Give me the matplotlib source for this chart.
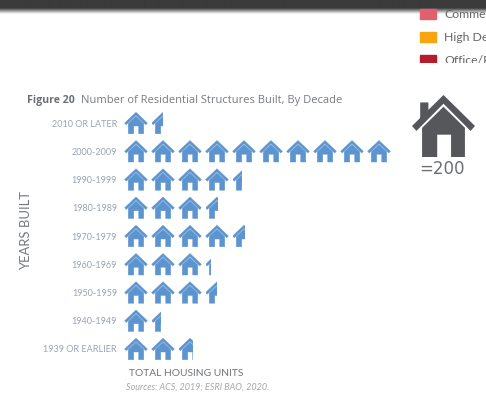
import numpy as np
from matplotlib import pyplot as plt
from matplotlib.path import Path
from matplotlib.patches import PathPatch, Rectangle

# housing units per decade, one icon = 200 units
decades = ["2010 OR LATER", "2000-2009", "1990-1999", "1980-1989", "1970-1979",
           "1960-1969", "1950-1959", "1940-1949", "1939 OR EARLIER"]
units = [300, 2000, 880, 710, 910, 650, 700, 280, 530]
units_per_icon = 200

legend_labels = ["Commercial", "High Density Residential", "Office/Professional"]
legend_colors = ["#e0606f", "#f9a50f", "#b81c2b"]

BLUE = "#5c94cf"
GREY = "#55575b"
LABEL = "#98a4b2"
FONT = "Lato"


def poly(points):
    codes = [Path.MOVETO] + [Path.LINETO] * (len(points) - 1) + [Path.CLOSEPOLY]
    return list(points) + [points[0]], codes


def house_path(x0, y0, w, h, chimney=False):
    # unit house: chevron roof above a body with a door notch, v goes upwards
    roof = [(0, .50), (.5, 1), (1, .50), (.93, .42), (.5, .86), (.07, .42)]
    body = [(.16, 0), (.16, .47), (.5, .81), (.84, .47), (.84, 0), (.62, 0),
            (.62, .36), (.40, .36), (.40, 0)]
    parts = [roof, body]
    if chimney:
        parts.append([(.13, .60), (.13, .88), (.26, .88), (.26, .73)])
    verts, codes = [], []
    for part in parts:
        v, c = poly(part)
        verts += v
        codes += c
    verts = [(x0 + u * w, y0 - v * h) for u, v in verts]
    return Path(verts, codes)


fig = plt.figure(figsize=(4.86, 4.04), dpi=100)

# page layer in pixel coordinates
page = fig.add_axes([0, 0, 1, 1])
page.axis("off")

# dark band with its drop shadow at the top of the page
ys = np.linspace(0, 16, 40)
band = np.tile(np.clip((ys - 8) / 6, 0, 1)[:, None], (1, 486))
page.imshow(band, extent=(0, 486, 16, 0), cmap="gray", vmin=-0.3, vmax=1,
            aspect="auto", zorder=1)
page.set_xlim(0, 486)
page.set_ylim(404, 0)

# legend is cut off below the third entry
legend_clip = Rectangle((410, 0), 76, 63, transform=page.transData)
for i, (name, col) in enumerate(zip(legend_labels, legend_colors)):
    y = 14 + i * 23.2
    swatch = Rectangle((420, y - 5), 16, 10, color=col, zorder=2)
    page.add_patch(swatch)
    swatch.set_clip_path(legend_clip)
    t = page.text(444, y + 0.5, name, fontsize=8.8, color="#666666", family=FONT,
                  va="center", ha="left", zorder=2)
    t.set_clip_on(True)
    t.set_clip_path(legend_clip)

page.text(27, 100, "Figure 20", fontsize=7.6, fontweight="bold", color="#6b6f73",
          family="Open Sans", va="center")
page.text(81, 100, "Number of Residential Structures Built, By Decade", fontsize=8,
          color="#777b80", family="Open Sans", va="center")
page.text(26, 230, "YEARS BUILT", fontsize=9.4, color="#74787c", family=FONT,
          rotation=90, va="center", ha="center")
page.text(129, 374, "TOTAL HOUSING UNITS", fontsize=7.4, color="#6f7377", family=FONT,
          va="center")
page.text(126, 387, "Sources: ACS, 2019; ESRI BAO, 2020.", fontsize=6.5, color="#a3a6a9",
          family=FONT, style="italic", va="center")

# key icon
page.add_patch(PathPatch(house_path(412, 157, 63, 62, chimney=True), fc=GREY, ec="none", zorder=3))
page.text(442, 169, "=200", fontsize=12, color="#6b6e72", family="DejaVu Sans",
          va="center", ha="center")

# pictogram: x in icons, y in rows
ax = fig.add_axes([122.5 / 486, 1 - 363.1 / 404, 270 / 486, 254.2 / 404])
ax.patch.set_alpha(0)
ax.set_xlim(0, 10)
ax.set_ylim(len(decades) - 0.5, -0.5)
ax.set_yticks(range(len(decades)), decades)
ax.set_xticks([])
for s in ax.spines.values():
    s.set_visible(False)
ax.tick_params(axis="y", length=0, pad=4, labelsize=6.5, labelcolor=LABEL)
for lab in ax.get_yticklabels():
    lab.set_family(FONT)

ICON_W = 0.84
ICON_H = 0.76
for row, total in enumerate(units):
    n = total / units_per_icon
    for i in range(int(np.ceil(n))):
        frac = min(n - i, 1)
        x0 = i + (1 - ICON_W) / 2
        patch = PathPatch(house_path(x0, row + ICON_H / 2, ICON_W, ICON_H), fc=BLUE, ec=BLUE, lw=0.3)
        ax.add_patch(patch)
        if frac < 1:
            patch.set_clip_path(Rectangle((x0, row - 0.5), ICON_W * frac, 1, transform=ax.transData))

fig.savefig("out.png", dpi=100)
